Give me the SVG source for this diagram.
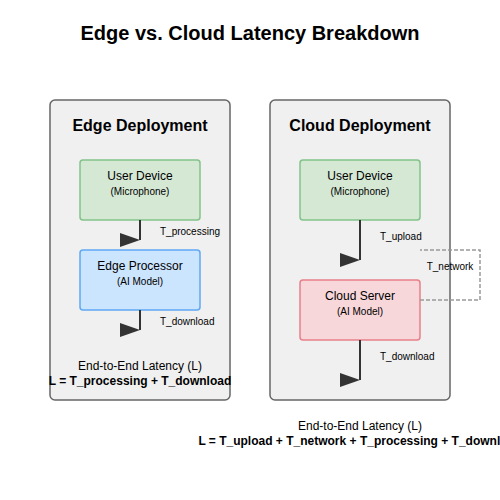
<svg xmlns="http://www.w3.org/2000/svg" width="500" height="500" viewBox="0 0 500 500">
<defs>
<style>
text{font-family:"Liberation Sans",Arial,sans-serif;fill:#000}
.title{font-size:20px;font-weight:bold;text-anchor:middle}
.ptitle{font-size:16px;font-weight:bold;text-anchor:middle}
.panel{fill:#f0f0f0;stroke:#666;stroke-width:1.5}
.nl{font-size:12px;text-anchor:middle}
.ns{font-size:10px;text-anchor:middle}
.el{font-size:10px}
.lat{font-size:12px;text-anchor:middle}
.form{font-size:12px;font-weight:bold;text-anchor:middle}
.edge{stroke:#333;stroke-width:2;fill:none;marker-end:url(#arr)}
.green{fill:#d5e8d4;stroke:#82c38a;stroke-width:1.5}
.blue{fill:#cce5ff;stroke:#5fa8f5;stroke-width:1.5}
.red{fill:#f8d7da;stroke:#e8808a;stroke-width:1.5}
</style>
<marker id="arr" markerWidth="10" markerHeight="7" refX="10" refY="3.5" viewBox="0 0 10 7">
<polygon points="0 0,10 3.5,0 7" fill="#333"/>
</marker>
</defs>
<rect width="500" height="500" fill="#fff"/>
<text class="title" x="250" y="40">Edge vs. Cloud Latency Breakdown</text>

<g id="edge-panel">
<rect class="panel" x="50" y="100" width="180" height="300" rx="5"/>
<text class="ptitle" x="140" y="131">Edge Deployment</text>
<text class="lat" x="140" y="370">End-to-End Latency (L)</text>
<text class="form" x="140" y="385">L = T_processing + T_download</text>
</g>
<g id="cloud-panel">
<rect class="panel" x="270" y="100" width="180" height="300" rx="5"/>
<text class="ptitle" x="360" y="131">Cloud Deployment</text>
</g>
<g id="cloud-latency">
<text class="lat" x="360" y="430">End-to-End Latency (L)</text>
<text class="form" x="360" y="445">L = T_upload + T_network + T_processing + T_download</text>
</g>

<g id="edge-user-device">
<rect class="green" x="80" y="160" width="120" height="60" rx="3"/>
<text class="nl" x="140" y="180">User Device</text>
<text class="ns" x="140" y="195">(Microphone)</text>
</g>
<g id="edge-processor">
<rect class="blue" x="80" y="250" width="120" height="60" rx="3"/>
<text class="nl" x="140" y="270">Edge Processor</text>
<text class="ns" x="140" y="285">(AI Model)</text>
</g>
<g id="cloud-user-device">
<rect class="green" x="300" y="160" width="120" height="60" rx="3"/>
<text class="nl" x="360" y="180">User Device</text>
<text class="ns" x="360" y="195">(Microphone)</text>
</g>
<g id="cloud-server">
<rect class="red" x="300" y="280" width="120" height="60" rx="3"/>
<text class="nl" x="360" y="300">Cloud Server</text>
<text class="ns" x="360" y="315">(AI Model)</text>
</g>

<g id="connectors">
<line class="edge" x1="140" y1="220" x2="140" y2="240"/>
<text class="el" x="160" y="235">T_processing</text>
<line class="edge" x1="140" y1="310" x2="140" y2="330"/>
<text class="el" x="160" y="325">T_download</text>
<line class="edge" x1="360" y1="220" x2="360" y2="260"/>
<text class="el" x="380" y="240">T_upload</text>
<line class="edge" x1="360" y1="340" x2="360" y2="380"/>
<text class="el" x="380" y="360">T_download</text>
<path d="M420,300 L480,300 L480,250 L420,250" fill="none" stroke="#999" stroke-width="1.5" stroke-dasharray="4,2"/>
<text class="el" x="450" y="270" text-anchor="middle">T_network</text>
</g>
</svg>
